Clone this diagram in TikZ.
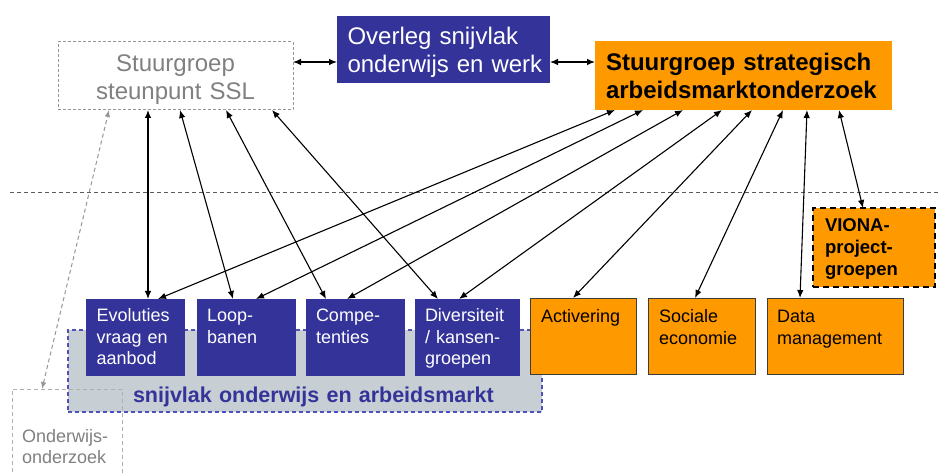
\documentclass[tikz,border=0pt]{standalone}
\usepackage{fontspec}
\setmainfont{Liberation Sans}
\usetikzlibrary{arrows.meta,calc}
\definecolor{blueF}{RGB}{51,51,153}
\definecolor{orangeF}{RGB}{255,153,0}
\definecolor{snijF}{RGB}{200,207,212}
\definecolor{snijB}{RGB}{80,80,185}
\definecolor{grayT}{RGB}{128,128,128}
\definecolor{grayB}{RGB}{150,150,150}
\definecolor{grayL}{RGB}{175,175,175}
\definecolor{lineG}{RGB}{90,90,90}
\definecolor{edgeO}{RGB}{60,60,60}
\begin{document}
\begin{tikzpicture}[x=1pt,y=-1pt,
  box/.style={anchor=north west, inner ysep=0pt, outer sep=0pt, align=left},
  big/.style={font=\fontsize{24pt}{28pt}\selectfont},
  bigb/.style={font=\fontsize{24pt}{28pt}\selectfont\bfseries},
  small/.style={font=\fontsize{18pt}{21.5pt}\selectfont},
  smallb/.style={font=\fontsize{18.5pt}{22pt}\selectfont\bfseries},
  bluebox/.style={box, small, fill=blueF, text=white, text height=23pt, text depth=54pt},
  orangebox/.style={box, small, fill=orangeF, draw=edgeO, line width=0.8pt, text=black, text height=25pt, text depth=51pt},
  arr/.style={{Latex[length=8pt,width=6.5pt]}-{Latex[length=8pt,width=6.5pt]}, line width=1.1pt, black},
  garr/.style={{Latex[length=7pt,width=5.5pt]}-{Latex[length=7pt,width=5.5pt]}, line width=1pt, grayB, dash pattern=on 4pt off 3pt}
]
\useasboundingbox (0,0) rectangle (938,473);

% background band
\node[box, fill=snijF, draw=snijB, line width=1.2pt, dash pattern=on 4pt off 3pt,
      inner xsep=0pt, text width=474pt, text height=72pt, text depth=10pt,
      font=\fontsize{21.5pt}{24pt}\selectfont\bfseries, text=blueF] (snij) at (68,330)
      {\hspace*{65pt}snijvlak onderwijs en arbeidsmarkt};

% Onderwijsonderzoek
\node[box, small, draw=grayL, line width=1pt, dash pattern=on 4pt off 3pt, text=grayT,
      inner xsep=10pt, text width=90pt, text height=53pt, text depth=40pt] (ondz) at (12,389)
      {Onderwijs-\\onderzoek};

% top row
\node[box, big, draw=grayB, line width=1pt, dash pattern=on 3pt off 2pt, text=grayT, align=center,
      inner xsep=0pt, text width=235pt, text height=29.7pt, text depth=38.3pt] (ssl) at (58,42)
      {Stuurgroep\\steunpunt SSL};
\node[box, big, fill=blueF, text=white,
      inner xsep=10.5pt, text width=192pt, text height=29pt, text depth=38pt] (overleg) at (337,16)
      {Overleg snijvlak\\\mbox{onderwijs en werk}};
\node[box, bigb, fill=orangeF, text=black,
      inner xsep=11pt, text width=275pt, text height=30pt, text depth=39pt] (strat) at (595,41)
      {Stuurgroep strategisch\\arbeidsmarktonderzoek};

% VIONA
\node[box, smallb, fill=orangeF, draw=black, line width=2.5pt, dash pattern=on 6pt off 4pt,
      inner xsep=12pt, text width=98pt, text height=24pt, text depth=55pt] (viona) at (813,208)
      {VIONA-\\project-\\groepen};

% bottom row
\node[bluebox, inner xsep=10.5pt, text width=78pt] (evo) at (86,299) {Evoluties\\vraag en\\aanbod};
\node[bluebox, inner xsep=10pt, text width=79pt] (loop) at (197,299) {Loop-\\banen};
\node[bluebox, inner xsep=10pt, text width=79pt] (comp) at (306,299) {Compe-\\tenties};
\node[bluebox, inner xsep=10pt, text width=85pt] (div) at (415,299) {Diversiteit\\/ kansen-\\groepen};
\node[orangebox, inner xsep=11pt, text width=84pt] (act) at (530,298) {Activering};
\node[orangebox, inner xsep=11pt, text width=85pt] (soc) at (648,298) {Sociale\\economie};
\node[orangebox, inner xsep=10pt, text width=116pt] (data) at (767,298) {Data\\management};

% dashed separator
\coordinate (sepL) at (10,192);
\coordinate (sepR) at (938,192);
\draw[lineG, line width=0.9pt, dash pattern=on 4pt off 3pt] (sepL) -- (sepR);

% horizontal arrows at top
\coordinate (h1) at ([yshift=-20pt]ssl.north east);
\draw[arr] (h1) -- (h1 -| overleg.west);
\draw[arr] (h1 -| overleg.east) -- (h1 -| strat.west);

% SSL arrows
\draw[arr] ([xshift=90pt]ssl.south west) -- ([xshift=62pt]evo.north west);
\draw[arr] ([xshift=122pt]ssl.south west) -- ([xshift=36pt]loop.north west);
\draw[arr] ([xshift=168pt]ssl.south west) -- ([xshift=20pt]comp.north west);
\draw[arr] ([xshift=214pt]ssl.south west) -- ([xshift=23pt]div.north west);

% strategic arrows
\draw[arr] ([xshift=20pt]strat.south west) -- ([xshift=72pt]evo.north west);
\draw[arr] ([xshift=48pt]strat.south west) -- ([xshift=59pt]loop.north west);
\draw[arr] ([xshift=88pt]strat.south west) -- ([xshift=41pt]comp.north west);
\draw[arr] ([xshift=127pt]strat.south west) -- ([xshift=44pt]div.north west);
\draw[arr] ([xshift=157pt]strat.south west) -- ([xshift=43pt]act.north west);
\draw[arr] ([xshift=188pt]strat.south west) -- ([xshift=47pt]soc.north west);
\draw[arr] ([xshift=212pt]strat.south west) -- ([xshift=33pt]data.north west);
\draw[arr] ([xshift=244pt]strat.south west) -- ([xshift=50pt]viona.north west);

% gray dashed arrow
\draw[garr] ([xshift=30pt]ondz.north west) -- ([xshift=51pt]ssl.south west);
\end{tikzpicture}
\end{document}
